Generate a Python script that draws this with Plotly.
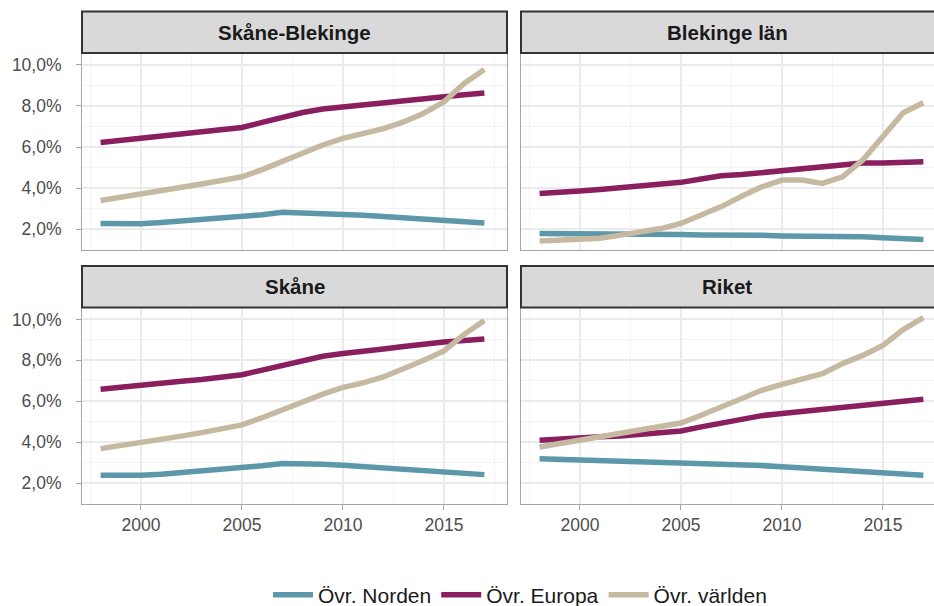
import plotly.graph_objects as go

years = list(range(1998, 2018))
series_names = ["Övr. Norden", "Övr. Europa", "Övr. världen"]
panels = ["Skåne-Blekinge", "Blekinge län", "Skåne", "Riket"]

# Values in percent of population
skane_blekinge_norden = [2.28, 2.25, 2.27, 2.32, 2.40, 2.48, 2.52, 2.58, 2.70, 2.82, 2.80, 2.78, 2.73, 2.68, 2.62, 2.55, 2.48, 2.43, 2.37, 2.30]
skane_blekinge_europa = [6.22, 6.32, 6.42, 6.52, 6.62, 6.70, 6.80, 6.95, 7.20, 7.45, 7.68, 7.85, 7.96, 8.04, 8.15, 8.28, 8.38, 8.47, 8.55, 8.63]
skane_blekinge_varlden = [3.40, 3.55, 3.70, 3.86, 4.05, 4.20, 4.37, 4.55, 4.90, 5.30, 5.70, 6.10, 6.42, 6.65, 6.90, 7.22, 7.65, 8.20, 9.10, 9.78]

blekinge_norden = [1.79, 1.79, 1.80, 1.80, 1.79, 1.78, 1.76, 1.74, 1.72, 1.73, 1.74, 1.70, 1.67, 1.67, 1.66, 1.65, 1.63, 1.58, 1.53, 1.50]
blekinge_europa = [3.74, 3.78, 3.86, 3.93, 4.02, 4.06, 4.16, 4.28, 4.44, 4.60, 4.66, 4.76, 4.86, 4.96, 5.06, 5.18, 5.22, 5.22, 5.23, 5.28]
blekinge_varlden = [1.43, 1.46, 1.51, 1.56, 1.71, 1.87, 2.03, 2.28, 2.70, 3.10, 3.60, 4.06, 4.39, 4.39, 4.23, 4.55, 5.37, 6.50, 7.67, 8.16]

skane_norden = [2.39, 2.37, 2.39, 2.44, 2.52, 2.60, 2.65, 2.72, 2.85, 2.96, 2.96, 2.93, 2.88, 2.82, 2.75, 2.67, 2.60, 2.55, 2.50, 2.42]
skane_europa = [6.59, 6.70, 6.80, 6.90, 6.98, 7.06, 7.16, 7.30, 7.52, 7.76, 8.00, 8.20, 8.33, 8.42, 8.55, 8.68, 8.80, 8.90, 8.97, 9.04]
skane_varlden = [3.69, 3.83, 3.98, 4.13, 4.30, 4.47, 4.65, 4.85, 5.20, 5.60, 6.00, 6.35, 6.68, 6.90, 7.19, 7.56, 8.00, 8.46, 9.27, 9.95]

riket_norden = [3.20, 3.17, 3.15, 3.13, 3.12, 3.10, 3.07, 3.04, 3.00, 2.96, 2.91, 2.86, 2.80, 2.74, 2.67, 2.60, 2.54, 2.48, 2.42, 2.39]
riket_europa = [4.10, 4.17, 4.23, 4.27, 4.31, 4.38, 4.47, 4.55, 4.75, 4.94, 5.15, 5.30, 5.40, 5.50, 5.61, 5.71, 5.80, 5.89, 6.00, 6.10]
riket_varlden = [3.77, 3.93, 4.10, 4.26, 4.42, 4.62, 4.78, 4.94, 5.32, 5.72, 6.18, 6.54, 6.83, 7.07, 7.35, 7.84, 8.24, 8.73, 9.50, 10.08]

panel_data = [
    [skane_blekinge_norden, skane_blekinge_europa, skane_blekinge_varlden],
    [blekinge_norden, blekinge_europa, blekinge_varlden],
    [skane_norden, skane_europa, skane_varlden],
    [riket_norden, riket_europa, riket_varlden],
]

colors = ["#5C98A9", "#8A1F5F", "#C6B9A2"]

W, H = 934, 606
# panel geometry in pixels (left, right, top, bottom)
cols_px = [(82, 507), (521, 934)]
rows_px = [(53, 249.5), (307.5, 503.5)]
strip_h = 41.5

def px_x(x):
    return x / W

def px_y(y):
    return 1 - y / H

fig = go.Figure()

grid_major = "#EBEBEB"
grid_minor = "#F3F3F3"
border = "#A6A6A6"
tickfont = dict(family="Liberation Sans, Arial, sans-serif", size=17.5, color="#4D4D4D")

for i, name in enumerate(panels):
    r, c = divmod(i, 2)
    ax = "" if i == 0 else str(i + 1)
    for s in range(3):
        fig.add_trace(go.Scatter(
            x=years, y=[v / 100 for v in panel_data[i][s]],
            mode="lines", name=series_names[s],
            line=dict(color=colors[s], width=5.5),
            legendgroup=series_names[s], showlegend=(i == 0),
            xaxis="x" + ax, yaxis="y" + ax,
        ))
    x0, x1 = cols_px[c]
    y0, y1 = rows_px[r]
    xr_end = 1997.08 + (x1 - x0) / 20.2
    fig.update_layout(**{
        "xaxis" + ax: dict(
            domain=[px_x(x0), px_x(x1)], range=[1997.08, xr_end],
            anchor="y" + ax, tick0=2000, dtick=5,
            showgrid=True, gridcolor=grid_major, gridwidth=2,
            minor=dict(dtick=2.5, tick0=1997.5, showgrid=True, gridcolor=grid_minor, gridwidth=1),
            showline=True, linecolor=border, linewidth=1, mirror=True,
            ticks="outside" if r == 1 else "", ticklen=5, tickcolor=border,
            ticklabelstandoff=0,
            showticklabels=(r == 1), tickfont=tickfont, zeroline=False,
            automargin=False,
        ),
        "yaxis" + ax: dict(
            domain=[px_y(y1), px_y(y0)], range=[0.0101, 0.1058],
            anchor="x" + ax, tick0=0, dtick=0.02, tickformat=".1%",
            showgrid=True, gridcolor=grid_major, gridwidth=2,
            minor=dict(dtick=0.01, tick0=0, showgrid=True, gridcolor=grid_minor, gridwidth=1),
            showline=True, linecolor=border, linewidth=1, mirror=True,
            ticks="outside" if c == 0 else "", ticklen=5, tickcolor=border,
            ticklabelstandoff=11,
            showticklabels=(c == 0), tickfont=tickfont, zeroline=False,
            automargin=False,
        ),
    })
    # strip
    fig.add_shape(type="rect", xref="paper", yref="paper",
                  x0=px_x(x0), x1=px_x(x1 + (3 if c == 1 else 0)),
                  y0=px_y(y0), y1=px_y(y0 - strip_h),
                  fillcolor="#D9D9D9", line=dict(color="#333333", width=2), layer="above")
    fig.add_annotation(xref="paper", yref="paper",
                       x=px_x((cols_px[0][0] + cols_px[0][1]) / 2) if c == 0 else px_x(727),
                       y=px_y(y0 - strip_h / 2), text="<b>" + name + "</b>",
                       showarrow=False, xanchor="center", yanchor="middle",
                       font=dict(family="Liberation Sans, Arial, sans-serif", size=20.5, color="#1A1A1A"))

fig.update_layout(
    width=W, height=H,
    margin=dict(l=0, r=0, t=0, b=0, autoexpand=False),
    paper_bgcolor="white", plot_bgcolor="white",
    separators=", ",
    showlegend=True,
    legend=dict(orientation="h", x=520 / W, xanchor="center", y=px_y(595), yanchor="middle",
                font=dict(family="Liberation Sans, Arial, sans-serif", size=21, color="#1A1A1A"),
                itemwidth=40, bgcolor="rgba(0,0,0,0)"),
)

fig.write_html("out.html", config={"displayModeBar": False},
               post_script="document.body.style.margin='0';")
